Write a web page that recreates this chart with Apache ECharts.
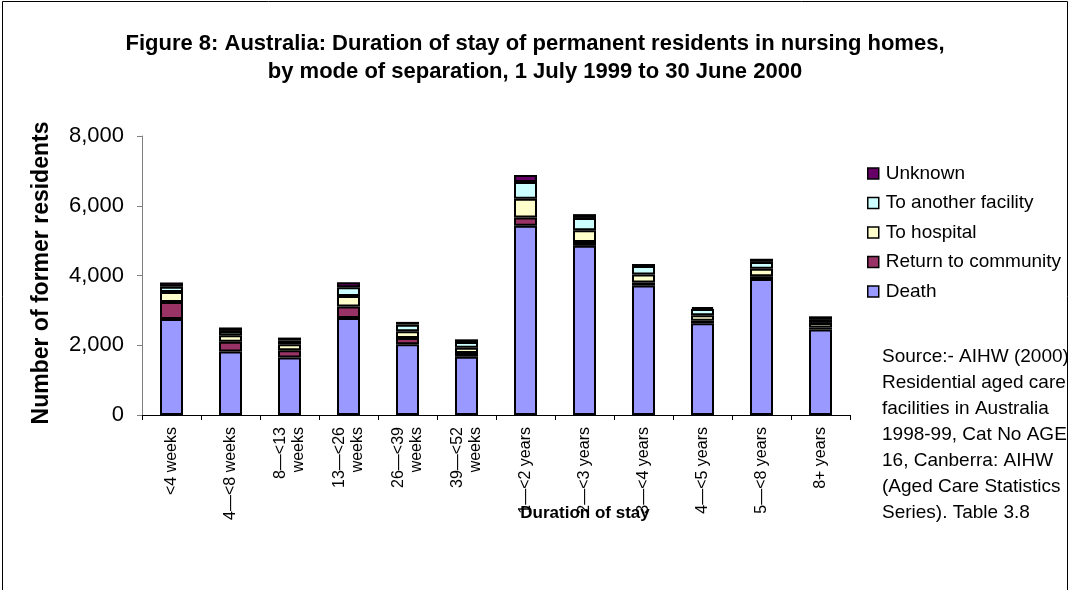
<!DOCTYPE html>
<html>
<head>
<meta charset="utf-8">
<script src="https://cdn.jsdelivr.net/npm/echarts@6/dist/echarts.min.js"></script>
<style>
  html, body { margin: 0; padding: 0; background: #fff; }
  #chart { width: 1071px; height: 590px; }
</style>
</head>
<body>
<div id="chart"></div>
<script>
// Duration-of-stay categories (x axis)
const categories = [
  '<4 weeks', '4—<8 weeks', '8—<13\nweeks', '13—<26\nweeks', '26—<39\nweeks', '39—<52\nweeks',
  '1—<2 years', '2—<3 years', '3—<4 years', '4—<5 years', '5—<8 years', '8+ years'
];

// Former residents by mode of separation
const death     = [2750, 1820, 1650, 2780, 2030, 1670, 5430, 4850, 3710, 2630, 3900, 2450];
const returnCom = [ 490,  280,  210,  330,  180,  110,  230,  110,   90,   70,   80,   60];
const hospital  = [ 290,  190,  170,  300,  190,  150,  540,  340,  230,  160,  210,  130];
const facility  = [ 150,  120,  110,  250,  190,  160,  480,  350,  240,  180,  200,  110];
const unknown   = [ 120,  100,   80,  150,   80,   80,  200,  110,   60,   50,   90,   80];

// Y axis ticks
const yTicks = [0, 2000, 4000, 6000, 8000];

const seriesDefs = [
  { name: 'Death', data: death, color: '#9999FF' },
  { name: 'Return to community', data: returnCom, color: '#993366' },
  { name: 'To hospital', data: hospital, color: '#FFFFCC' },
  { name: 'To another facility', data: facility, color: '#CCFFFF' },
  { name: 'Unknown', data: unknown, color: '#660066' }
];

const FONT = 'Liberation Sans, Arial, sans-serif';

const titleLines = [
  'Figure 8: Australia: Duration of stay of permanent residents in nursing homes,',
  'by mode of separation, 1 July 1999 to 30 June 2000'
];

const sourceLines = [
  'Source:- AIHW (2000)',
  'Residential aged care',
  'facilities in Australia',
  '1998-99, Cat No AGE',
  '16, Canberra: AIHW',
  '(Aged Care Statistics',
  'Series). Table 3.8'
];

const chart = echarts.init(document.getElementById('chart'), null, { renderer: 'canvas' });

chart.setOption({
  backgroundColor: '#ffffff',
  animation: false,
  textStyle: { fontFamily: FONT },
  legend: {
    orient: 'vertical',
    left: 867,
    top: 163,
    padding: 0,
    itemWidth: 11,
    itemHeight: 11,
    itemGap: 8.5,
    icon: 'rect',
    data: ['Unknown', 'To another facility', 'To hospital', 'Return to community', 'Death'],
    itemStyle: { borderColor: '#000', borderWidth: 1.5 },
    textStyle: { fontFamily: FONT, fontSize: 19, color: '#000', lineHeight: 21, padding: [0, 0, 0, 2] }
  },
  grid: { left: 142, right: 221, top: 136, bottom: 175, containLabel: false },
  xAxis: {
    type: 'category',
    data: categories,
    axisLine: { lineStyle: { color: '#000', width: 1 } },
    axisTick: { show: true, length: 5, lineStyle: { color: '#000' } },
    axisLabel: {
      rotate: 90,
      interval: 0,
      margin: 12,
      fontFamily: FONT,
      fontSize: 16,
      color: '#000',
      lineHeight: 18
    }
  },
  yAxis: {
    type: 'value',
    min: yTicks[0],
    max: yTicks[yTicks.length - 1],
    interval: 2000,
    axisLine: { show: true, lineStyle: { color: '#808080', width: 1 } },
    axisTick: { show: true, length: 5, lineStyle: { color: '#808080' } },
    splitLine: { show: false },
    axisLabel: {
      margin: 18,
      fontFamily: FONT,
      fontSize: 22,
      color: '#000',
      formatter: v => v.toLocaleString('en-US')
    }
  },
  series: seriesDefs.map(s => ({
    name: s.name,
    type: 'bar',
    stack: 'total',
    data: s.data,
    barWidth: 23,
    itemStyle: { color: s.color, borderColor: '#000', borderWidth: 2 },
    emphasis: { disabled: true }
  })),
  graphic: [
    {
      type: 'rect',
      shape: { x: 2.5, y: 1.5, width: 1065, height: 620 },
      style: { fill: 'none', stroke: '#000', lineWidth: 1 },
      silent: true
    },
    {
      type: 'text',
      x: 535, y: 44,
      style: {
        text: titleLines[0],
        font: 'bold 22px ' + FONT,
        fill: '#000',
        textAlign: 'center',
        textVerticalAlign: 'middle'
      }
    },
    {
      type: 'text',
      x: 535, y: 72,
      style: {
        text: titleLines[1],
        font: 'bold 22px ' + FONT,
        fill: '#000',
        textAlign: 'center',
        textVerticalAlign: 'middle'
      }
    },
    {
      type: 'text',
      x: 42, y: 273,
      rotation: Math.PI / 2,
      style: {
        text: 'Number of former residents',
        font: 'bold 23px ' + FONT,
        fill: '#000',
        textAlign: 'center',
        textVerticalAlign: 'middle'
      }
    },
    {
      type: 'text',
      x: 585, y: 513,
      z: 10,
      style: {
        text: 'Duration of stay',
        font: 'bold 17px ' + FONT,
        fill: '#000',
        textAlign: 'center',
        textVerticalAlign: 'middle'
      }
    },
    {
      type: 'text',
      x: 882, y: 344,
      style: {
        text: sourceLines.join('\n'),
        font: '19px ' + FONT,
        lineHeight: 26,
        fill: '#000',
        textAlign: 'left',
        textVerticalAlign: 'top'
      }
    }
  ]
});
</script>
</body>
</html>
